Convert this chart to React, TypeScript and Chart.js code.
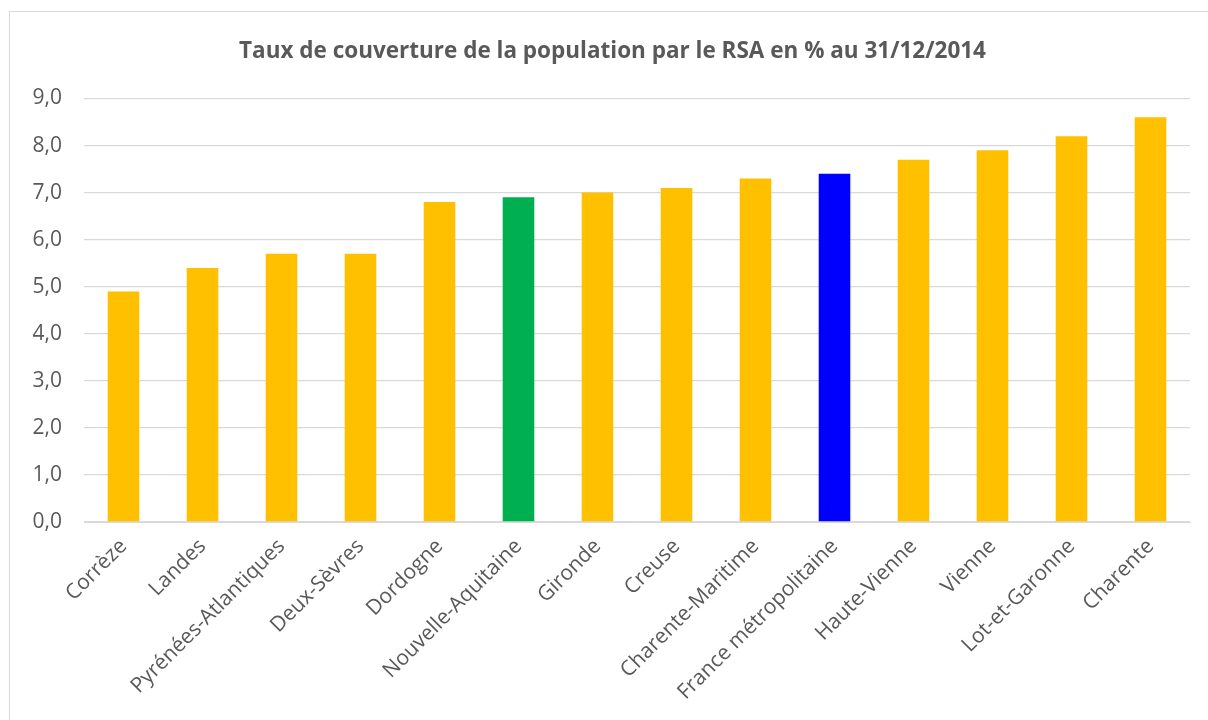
import React, { useEffect, useRef } from "react";
import { Chart, registerables } from "chart.js";

Chart.register(...registerables);

const categories = [
  "Corrèze",
  "Landes",
  "Pyrénées-Atlantiques",
  "Deux-Sèvres",
  "Dordogne",
  "Nouvelle-Aquitaine",
  "Gironde",
  "Creuse",
  "Charente-Maritime",
  "France métropolitaine",
  "Haute-Vienne",
  "Vienne",
  "Lot-et-Garonne",
  "Charente",
];

const values = [4.9, 5.4, 5.7, 5.7, 6.8, 6.9, 7.0, 7.1, 7.3, 7.4, 7.7, 7.9, 8.2, 8.6];

const GOLD = "#FFC000";
const GREEN = "#00B050";
const BLUE = "#0000FF";
const barColors = [GOLD, GOLD, GOLD, GOLD, GOLD, GREEN, GOLD, GOLD, GOLD, BLUE, GOLD, GOLD, GOLD, GOLD];

const titleText = "Taux de couverture de la population par le RSA en % au 31/12/2014";
const yMin = 0;
const yMax = 9;
const yStep = 1;

const TEXT = "#595959";
const GRID = "#d9d9d9";
const FONT = "'Open Sans', sans-serif";

const CANVAS_W = 1198;
const CANVAS_H = 708;

const titlePlugin = {
  id: "centeredTitle",
  afterDraw(chart: any) {
    const ctx = chart.ctx;
    ctx.save();
    ctx.font = `bold 22.5px ${FONT}`;
    ctx.fillStyle = TEXT;
    ctx.textAlign = "center";
    ctx.textBaseline = "middle";
    ctx.fillText(titleText, chart.width / 2 + 3.5, 39.5);
    ctx.restore();
  },
};

export default function App() {
  const ref = useRef<HTMLCanvasElement | null>(null);

  useEffect(() => {
    if (!ref.current) return;
    const chart = new Chart(ref.current, {
      type: "bar",
      data: {
        labels: categories,
        datasets: [
          {
            data: values,
            backgroundColor: barColors,
            borderWidth: 0,
            barPercentage: 0.4,
            categoryPercentage: 1,
          },
        ],
      },
      plugins: [titlePlugin],
      options: {
        animation: false,
        responsive: false,
        maintainAspectRatio: false,
        layout: { padding: { left: 0, right: 18, top: 86.5, bottom: 0 } },
        plugins: {
          legend: { display: false },
          tooltip: { enabled: false },
          title: { display: false },
        },
        scales: {
          x: {
            grid: { display: false, drawTicks: false },
            border: { display: true, color: GRID, width: 1 },
            ticks: {
              color: TEXT,
              font: { family: FONT, size: 21 },
              maxRotation: 45,
              minRotation: 45,
              autoSkip: false,
              padding: 12,
            },
            afterFit: (scale: any) => {
              scale.height = 198;
            },
          },
          y: {
            min: yMin,
            max: yMax,
            border: { display: false },
            grid: { color: GRID, lineWidth: 1.3, drawTicks: false },
            ticks: {
              stepSize: yStep,
              color: TEXT,
              font: { family: FONT, size: 21 },
              padding: 22,
              callback: (v: any) => Number(v).toFixed(1).replace(".", ","),
            },
            afterFit: (scale: any) => {
              scale.width = 74;
            },
          },
        },
      },
    });
    return () => chart.destroy();
  }, []);

  return (
    <div
      style={{
        position: "absolute",
        left: 9,
        top: 11,
        width: 1240,
        height: 740,
        border: `1.5px solid ${GRID}`,
        background: "#fff",
        boxSizing: "border-box",
      }}
    >
      <canvas ref={ref} width={CANVAS_W} height={CANVAS_H} style={{ display: "block" }} />
    </div>
  );
}
